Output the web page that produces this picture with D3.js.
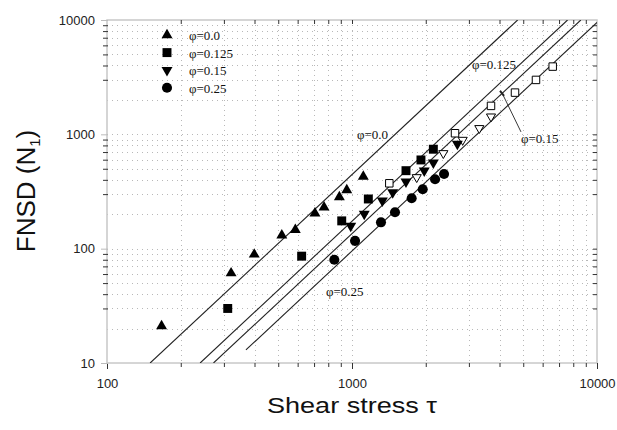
<!DOCTYPE html>
<html>
<head>
<meta charset="utf-8">
<script src="https://cdn.jsdelivr.net/npm/d3@7"></script>
<style>
html,body{margin:0;padding:0;background:#fff;}
svg{display:block;}
</style>
</head>
<body>
<svg id="chart" width="617" height="430"></svg>
<script>
// ---- data ----
const phiLabels = ["φ=0.0", "φ=0.125", "φ=0.15", "φ=0.25"];

// filled symbols: [tau, N1]
const phi000 = [[167,21],[321,61],[399,89],[517,131],[587,146],[706,204],[769,230],[888,282],[952,326],[1112,427]];
const phi125 = [[311,30],[623,86],[908,175],[1166,272],[1661,481],[1912,597],[2148,741]];
const phi150 = [[988,158],[1122,201],[1330,263],[1466,311],[1661,386],[1972,481],[2148,565],[2692,824]];
const phi250 = [[847,80],[1029,117],[1313,170],[1498,208],[1752,276],[1944,331],[2183,405],[2375,450]];
// open symbols
const phi125open = [[1420,373],[2633,1022],[3693,1773],[4627,2317],[5636,2992],[6595,3913]];
const phi150open = [[1837,421],[2359,683],[2830,893],[3308,1131],[3693,1429]];

// fitted lines: start and end points [tau, N1]
const lineStarts = [[150,10],[240,10],[272,10],[369,13]];
const lineEnds   = [[4743,10000],[7583,10000],[8589,10000],[10000,9532]];

// line annotations: [tau, N1] of text start (baseline)
const lineLabelPos = [[1048,911],[3090,3735],[4895,841],[783,38.6]];
const leader150 = [[4096,2302],[4895,1050]];

const xTickLabels = [100, 1000, 10000];
const yTickLabels = [10, 100, 1000, 10000];
const xTitle = "Shear stress τ";

// ---- chart ----
const svg = d3.select("#chart");
const L = 107, R = 597, T = 20, B = 363;
const x = d3.scaleLog().domain([100, 10000]).range([L, R]);
const y = d3.scaleLog().domain([10, 10000]).range([B, T]);

const minorX = [], minorY = [];
[100, 1000].forEach(d => { for (let k = 2; k <= 9; k++) minorX.push(d * k); });
[10, 100, 1000].forEach(d => { for (let k = 2; k <= 9; k++) minorY.push(d * k); });

// grid (dotted)
const grid = svg.append("g").attr("stroke", "#b8b8b8").attr("stroke-width", 1).attr("stroke-dasharray", "1,4");
grid.selectAll(".gx").data(minorX.concat([1000])).enter().append("line")
  .attr("x1", d => Math.round(x(d)) + 0.5).attr("x2", d => Math.round(x(d)) + 0.5)
  .attr("y1", T).attr("y2", B);
grid.selectAll(".gy").data(minorY.concat([100, 1000])).enter().append("line")
  .attr("y1", d => Math.round(y(d)) + 0.5).attr("y2", d => Math.round(y(d)) + 0.5)
  .attr("x1", L).attr("x2", R);

// frame
svg.append("rect").attr("x", L).attr("y", T).attr("width", R - L).attr("height", B - T)
  .attr("fill", "none").attr("stroke", "#c8c8c8").attr("stroke-width", 1.5);

// axes with d3 axis generators
const xAxis = d3.axisBottom(x).tickValues(minorX.concat(xTickLabels)).tickSize(4).tickFormat(d => xTickLabels.includes(d) ? d : "");
const gx = svg.append("g").attr("transform", `translate(0,${B})`).call(xAxis);
gx.select(".domain").remove();
gx.selectAll(".tick line").attr("stroke", "#333").attr("y1", 0)
  .attr("y2", d => xTickLabels.includes(d) ? 6 : 4);
gx.selectAll(".tick text").attr("y", 16).attr("font-family", "Liberation Sans, Arial, sans-serif")
  .attr("font-size", 13).attr("fill", "#222");

const yAxis = d3.axisLeft(y).tickValues(minorY.filter(d => !String(d).startsWith("2")).concat(yTickLabels)).tickSize(4)
  .tickFormat(d => yTickLabels.includes(d) ? d : "");
const gy = svg.append("g").attr("transform", `translate(${L},0)`).call(yAxis);
gy.select(".domain").remove();
gy.selectAll(".tick line").attr("stroke", d => yTickLabels.includes(d) ? "#bbb" : "#333")
  .attr("x2", d => yTickLabels.includes(d) ? -6 : -4).attr("x1", 1);
gy.selectAll(".tick text").attr("x", -12).attr("font-family", "Liberation Sans, Arial, sans-serif")
  .attr("font-size", 13).attr("fill", "#222");

// top & right inward ticks
const gTop = svg.append("g").attr("transform", `translate(0,${T})`).call(d3.axisBottom(x).tickValues(minorX.concat([1000])).tickSize(4).tickFormat(""));
gTop.select(".domain").remove();
gTop.selectAll(".tick line").attr("stroke", "#333");
const gRight = svg.append("g").attr("transform", `translate(${R},0)`).call(d3.axisLeft(y).tickValues(minorY.filter(d => !String(d).startsWith("2")).concat([100,1000])).tickSize(4).tickFormat(""));
gRight.select(".domain").remove();
gRight.selectAll(".tick line").attr("stroke", "#333");

// clip
svg.append("clipPath").attr("id", "clip").append("rect").attr("x", L).attr("y", T).attr("width", R - L).attr("height", B - T);

// fitted lines
const plot = svg.append("g").attr("clip-path", "url(#clip)");
plot.selectAll(".fit").data(lineStarts.map((s, i) => [s, lineEnds[i]])).enter().append("line")
  .attr("x1", d => x(d[0][0])).attr("y1", d => y(d[0][1]))
  .attr("x2", d => x(d[1][0])).attr("y2", d => y(d[1][1]))
  .attr("stroke", "#222").attr("stroke-width", 1.1);

// leader for phi=0.15
svg.append("line").attr("x1", x(leader150[0][0])).attr("y1", y(leader150[0][1]))
  .attr("x2", x(leader150[1][0])).attr("y2", y(leader150[1][1]))
  .attr("stroke", "#222").attr("stroke-width", 0.9);
svg.append("line").attr("x1", x(leader150[0][0]) - 2).attr("y1", y(leader150[0][1]) - 2)
  .attr("x2", x(leader150[0][0]) + 2).attr("y2", y(leader150[0][1]) + 3)
  .attr("stroke", "#222").attr("stroke-width", 2);

function phiText(sel, lab) {
  sel.attr("font-family", "Liberation Serif, Times New Roman, serif").attr("font-size", 13).attr("fill", "#111").text(lab);
}

// line labels
svg.selectAll(".lbl").data(lineLabelPos).enter().append("text")
  .attr("x", d => x(d[0])).attr("y", d => y(d[1]))
  .each(function(d, i) { phiText(d3.select(this), phiLabels[i]); });

// markers
const symTri = d3.symbol().type(d3.symbolTriangle).size(52);
const symSq = d3.symbol().type(d3.symbolSquare).size(80);
const symCir = d3.symbol().type(d3.symbolCircle).size(80);
const symTriOpen = d3.symbol().type(d3.symbolTriangle).size(36);
const symSqOpen = d3.symbol().type(d3.symbolSquare).size(56);

function drawSeries(data, sym, rot, filled) {
  svg.append("g").selectAll("path").data(data).enter().append("path")
    .attr("d", sym())
    .attr("transform", d => `translate(${x(d[0])},${y(d[1])}) rotate(${rot})`)
    .attr("fill", filled ? "#000" : "#fff")
    .attr("stroke", "#000").attr("stroke-width", filled ? 0 : 1);
}
drawSeries(phi125open, symSqOpen, 0, false);
drawSeries(phi150open, symTriOpen, 180, false);
drawSeries(phi000, symTri, 0, true);
drawSeries(phi125, symSq, 0, true);
drawSeries(phi150, symTri, 180, true);
drawSeries(phi250, symCir, 0, true);

// legend
const legSyms = [[symTri, 0], [symSq, 0], [symTri, 180], [symCir, 0]];
const leg = svg.append("g");
phiLabels.forEach((lab, i) => {
  const yy = 35 + i * 17.6;
  leg.append("path").attr("d", legSyms[i][0]()).attr("transform", `translate(167,${yy}) rotate(${legSyms[i][1]})`).attr("fill", "#000");
  const t = leg.append("text").attr("x", 189).attr("y", yy + 5);
  phiText(t, lab);
});

// axis titles
svg.append("text").attr("x", 352).attr("y", 413).attr("text-anchor", "middle")
  .attr("font-family", "Liberation Sans, Arial, sans-serif").attr("font-size", 22).attr("fill", "#111")
  .attr("textLength", 170).attr("lengthAdjust", "spacingAndGlyphs").text(xTitle);

const yt = svg.append("text").attr("transform", "translate(35,191) rotate(-90)").attr("text-anchor", "middle")
  .attr("font-family", "Liberation Sans, Arial, sans-serif").attr("font-size", 26).attr("fill", "#111");
yt.append("tspan").text("FNSD (N");
yt.append("tspan").attr("font-size", 15).attr("dy", 5).text("1");
yt.append("tspan").attr("dy", -5).text(")");
</script>
</body>
</html>
